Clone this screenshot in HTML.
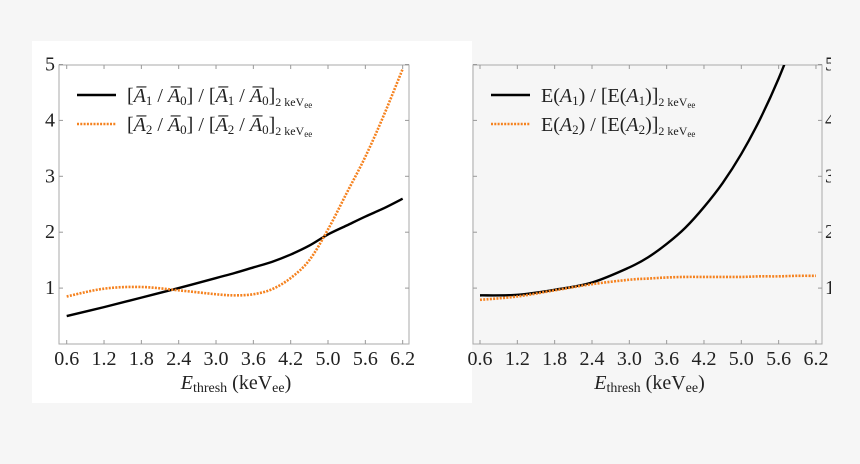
<!DOCTYPE html>
<html><head><meta charset="utf-8"><style>
body{margin:0;background:#f6f6f6;}
svg{display:block;font-family:"Liberation Serif",serif;}
</style></head><body>
<svg id="c" width="860" height="464"></svg>
<script>
const xTickLabels=["0.6","1.2","1.8","2.4","3.0","3.6","4.2","5.0","5.6","6.2"];
const yTickLabels=["1","2","3","4","5"];
const xs=[0.6,1.2,1.8,2.4,3.0,3.3,3.6,3.9,4.2,4.5,4.8,5.1,5.4,5.7,6.0];
const leftA1=[0.5,0.66,0.83,1.0,1.18,1.27,1.37,1.47,1.6,1.76,1.96,2.12,2.28,2.43,2.6];
const leftA2=[0.85,0.99,1.02,0.96,0.89,0.87,0.89,0.98,1.18,1.5,2.05,2.7,3.35,4.1,4.92];
const rightA1=[0.87,0.88,0.97,1.1,1.37,1.55,1.79,2.08,2.45,2.88,3.4,4.02,4.75,5.6,6.5];
const rightA2=[0.79,0.85,0.96,1.07,1.15,1.17,1.19,1.2,1.2,1.2,1.2,1.21,1.21,1.22,1.22];
const NS="http://www.w3.org/2000/svg";
const svg=document.getElementById('c');
const OR='#f5821f';
function el(t,a,p){const e=document.createElementNS(NS,t);for(const k in a)e.setAttribute(k,a[k]);(p||svg).appendChild(e);return e;}
const bg=el('rect',{x:32,y:41,width:440,height:362,fill:'#fff'});


const clip=el('clipPath',{id:'clipL'});el('rect',{x:59,y:65,width:350,height:279},clip);
const clip2=el('clipPath',{id:'clipR'});el('rect',{x:473,y:65,width:349,height:279},clip2);
const clip3=el('clipPath',{id:'clipLab'});el('rect',{x:0,y:0,width:831,height:464},clip3);
function panel(fx,x0px,name,s1,s2,leg,cid,yLabels){
  const fw=(fx===59?350:349),top=65,bot=344;
  const X=v=>x0px+(v-0.6)/0.6*37.33;
  const Y=v=>bot-v*55.9;
  const g=el('g',{});
  
  
  const fr=el('rect',{x:fx,y:top,width:fw,height:bot-top,fill:'none',stroke:'#aaa','stroke-width':1},g);
  
  
  xTickLabels.forEach((l,i)=>{const px=x0px+i*37.33;
    el('line',{x1:px,x2:px,y1:bot,y2:bot-4,stroke:'#999'},g);
    el('line',{x1:px,x2:px,y1:top,y2:top+4,stroke:'#999'},g);
    const t=el('text',{x:px,y:bot+21,'text-anchor':'middle','font-size':20,fill:'#222'},g);t.textContent=l;
    
    });
  yTickLabels.forEach((l,i)=>{const py=Y(+l);
    el('line',{x1:fx,x2:fx+4,y1:py,y2:py,stroke:'#999'},g);
    el('line',{x1:fx+fw,x2:fx+fw-4,y1:py,y2:py,stroke:'#999'},g);
    if(yLabels==='left'){const t=el('text',{x:fx-4,y:py+6,'text-anchor':'end','font-size':20,fill:'#222'},g);t.textContent=l;
      
      }
    else{const t=el('text',{x:fx+fw+3,y:py+6,'font-size':20,fill:'#222','clip-path':'url(#clipLab)'},g);t.textContent=l;
      
      }});
  function path(vals){const p=xs.map((x,i)=>[X(x),Y(vals[i])]);let d='M'+p[0][0]+','+p[0][1];
    for(let i=0;i<p.length-1;i++){const a=p[Math.max(0,i-1)],b=p[i],c=p[i+1],e=p[Math.min(p.length-1,i+2)];
      d+=' C'+(b[0]+(c[0]-a[0])/6)+','+(b[1]+(c[1]-a[1])/6)+' '+(c[0]-(e[0]-b[0])/6)+','+(c[1]-(e[1]-b[1])/6)+' '+c[0]+','+c[1];}return d;}
  const l1=el('path',{d:path(s1),fill:'none',stroke:'#000','stroke-width':2.4,'clip-path':'url(#'+cid+')'},g);
  
  
  const l2=el('path',{d:path(s2),fill:'none',stroke:OR,'stroke-width':2.6,'stroke-dasharray':'2,1.3','clip-path':'url(#'+cid+')'},g);
  
  
  leg.forEach((h,i)=>{const y=95+i*29;const lx=fx+18;
    const lg=el('g',{},g);
    
    
    el('line',{x1:lx,x2:lx+39,y1:y,y2:y,stroke:i?OR:'#000','stroke-width':2.4,'stroke-dasharray':i?'2,1.3':'none'},lg);
    const t=el('text',{x:lx+50,y:y+7,'font-size':20,fill:'#222'},lg);t.innerHTML=h;});
  const at=el('text',{x:(fx+fw/2)+2,y:389,'text-anchor':'middle','font-size':20,fill:'#222'},g);
  at.innerHTML='<tspan font-style="italic">E</tspan><tspan font-size="14" dy="3">thresh</tspan><tspan dy="-3"> (keV</tspan><tspan font-size="14" dy="3">ee</tspan><tspan dy="-3">)</tspan>';
  
  
}
const sub='<tspan font-size="12" dy="4">2 keV</tspan><tspan font-size="9" dy="2">ee</tspan>';
const A=n=>'<tspan font-style="italic">A\u0305</tspan><tspan font-size="13" dy="3">'+n+'</tspan><tspan dy="-3">';
panel(59,66.7,'left-chart',leftA1,leftA2,[
 '['+A(1)+' / </tspan>'+A(0)+'] / [</tspan>'+A(1)+' / </tspan>'+A(0)+']</tspan>'+sub,
 '['+A(2)+' / </tspan>'+A(0)+'] / [</tspan>'+A(2)+' / </tspan>'+A(0)+']</tspan>'+sub
],'clipL','left');
panel(473,480,'right-chart',rightA1,rightA2,[
 'E(<tspan font-style="italic">A</tspan><tspan font-size="13" dy="3">1</tspan><tspan dy="-3">) / [E(</tspan><tspan font-style="italic">A</tspan><tspan font-size="13" dy="3">1</tspan><tspan dy="-3">)]</tspan>'+sub,
 'E(<tspan font-style="italic">A</tspan><tspan font-size="13" dy="3">2</tspan><tspan dy="-3">) / [E(</tspan><tspan font-style="italic">A</tspan><tspan font-size="13" dy="3">2</tspan><tspan dy="-3">)]</tspan>'+sub
],'clipR','right');
</script>
</body></html>
